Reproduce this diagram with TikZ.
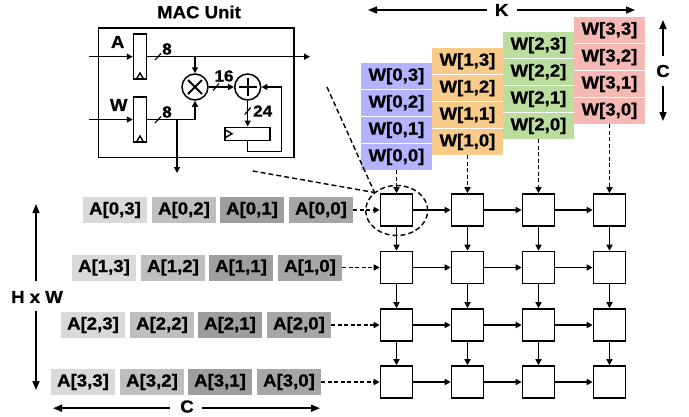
\documentclass[tikz,border=0pt]{standalone}
\usepackage{fontspec}
\setmainfont{Liberation Sans}[BoldFeatures={FakeBold=0.8,FakeStretch=1.07}]
\usetikzlibrary{arrows.meta,shapes.geometric}
\definecolor{wblue}{HTML}{B3B3FF}
\definecolor{worange}{HTML}{F9CB8B}
\definecolor{wgreen}{HTML}{BBDD9D}
\definecolor{wpink}{HTML}{F5B8B3}
\definecolor{athree}{HTML}{D9D9D9}
\definecolor{atwo}{HTML}{BFBFBF}
\definecolor{aone}{HTML}{9E9E9E}
\definecolor{azero}{HTML}{A6A6A6}
\tikzset{
  lbl/.style={font=\fontsize{17.4}{19}\selectfont\bfseries,inner sep=0pt},
  smalllbl/.style={font=\fontsize{16}{18}\selectfont\bfseries,inner sep=0pt},
  cell/.style={lbl,minimum width=71pt,minimum height=26pt},
  acell/.style={lbl,minimum width=64pt,minimum height=26pt},
  pebox/.style={draw,line width=1.6pt,fill=white,minimum size=32pt,inner sep=0pt},
  wire/.style={line width=1.5pt},
  arr/.style={wire,-{Triangle[length=6pt,width=6pt]}},
  bigarr/.style={line width=1.6pt,-{Triangle[length=9pt,width=7pt]}},
  dasharr/.style={line width=1.5pt,dash pattern=on 4pt off 2.5pt,-{Triangle[length=6pt,width=6pt]}},
  dashln/.style={line width=1.4pt,dash pattern=on 5pt off 3pt},
  regbox/.style={draw,line width=1.5pt,fill=white,inner sep=0pt},
  op/.style={circle,draw,line width=1.5pt,fill=white,minimum size=26pt,inner sep=0pt},
}
\begin{document}
\begin{tikzpicture}[x=1pt,y=-1pt]
\useasboundingbox (0,0) rectangle (689,416);
% MAC unit
\node[lbl] (title) at (199,12) {MAC Unit};
\node[draw,line width=1.6pt,minimum width=195.5pt,minimum height=129.5pt,inner sep=0pt] (mac) at (196.2,92.8) {};
\node[regbox,minimum width=13pt,minimum height=45pt] (rega) at (140,56.5) {};
\node[regbox,minimum width=13pt,minimum height=45pt] (regw) at (140,119.5) {};
\node[op] (mul) at (195,87) {};
\node[op] (add) at (247.7,87) {};
\node[regbox,minimum width=45pt,minimum height=13pt] (acc) at (247.7,133.8) {};
\draw[line width=1.4pt] (136.5,79) -- (140,73) -- (143.5,79);
\draw[line width=1.4pt] (136.5,142) -- (140,136) -- (143.5,142);
\draw[line width=1.4pt] (225.5,130) -- (232,133.8) -- (225.5,137.5);
\draw[line width=1.8pt] (mul.center) ++(-7,-7) -- ++(14,14) ++(-14,0) -- ++(14,-14);
\draw[line width=1.8pt] (add.center) ++(-9,0) -- ++(18,0) ++(-9,-9) -- ++(0,18);
\coordinate (ain) at (89,56.7);
\coordinate (win) at (89,119.5);
\coordinate (aout) at (310,56.7);
\coordinate (wout) at (177,173);
\coordinate (atap) at (mul.north |- ain);
\coordinate (wbend) at (mul.south |- win);
\coordinate (wtap) at (wout |- win);
\coordinate (fb1) at (247.7,151.7);
\coordinate (fb2) at (281.3,151.7);
\coordinate (fb3) at (281.3,87);
\draw[arr] (ain) -- (rega.west |- ain);
\draw[arr] (win) -- (regw.west |- win);
\draw[arr] (rega.east |- ain) -- (aout);
\draw[arr] (atap) -- (mul.north);
\draw[arr] (regw.east |- win) -- (wbend) -- (mul.south);
\draw[arr] (wtap) -- (wout);
\draw[arr] (mul.east) -- (add.west);
\draw[arr] (add.south) -- (acc.north);
\draw[arr] (acc.south) -- (fb1) -- (fb2) -- (fb3) -- (add.east);
\draw[line width=1.2pt] (155,60) -- (161,53.5);
\draw[line width=1.2pt] (155,123) -- (161,116.5);
\draw[line width=1.2pt] (213,90.5) -- (219,83.5);
\draw[line width=1.2pt] (244.7,114.5) -- (250.7,107.5);
\node[lbl] (la) at (117.7,42) {A};
\node[lbl] (lw) at (118.7,105) {W};
\node[smalllbl] (l8a) at (167,49) {8};
\node[smalllbl] (l8w) at (167,112) {8};
\node[smalllbl] (l16) at (224,76) {16};
\node[smalllbl] (l24) at (262.7,111) {24};
% W cells
\foreach \c/\x/\ytop/\col in {0/396.5/63/wblue,1/467.5/48/worange,2/538.5/32/wgreen,3/609.5/17/wpink}{
  \foreach \r/\k in {3/0,2/1,1/2,0/3}{
    \node[cell,fill=\col] (w-\c-\r) at (\x,{\ytop+13.2+26.9*\k}) {W[\c,\r]};
  }
}
% A cells
\foreach \r/\x/\y in {0/83/210,1/72/267.5,2/61/325,3/51/382}{
  \node[acell,fill=athree] (a-\r-3) at (\x+32,\y) {A[\r,3]};
  \node[acell,fill=atwo]   (a-\r-2) at (\x+101,\y) {A[\r,2]};
  \node[acell,fill=aone]   (a-\r-1) at (\x+169,\y) {A[\r,1]};
  \node[acell,fill=azero]  (a-\r-0) at (\x+238,\y) {A[\r,0]};
}
% PE grid
\foreach \r/\y in {0/210,1/267.5,2/325,3/382}{
  \foreach \c/\x in {0/396.5,1/467.5,2/538.5,3/609.5}{
    \node[pebox] (pe-\r-\c) at (\x,\y) {};
  }
}
\foreach \r in {0,1,2,3}{
  \draw[dasharr] (a-\r-0.east) -- (pe-\r-0.west);
  \draw[arr] (pe-\r-0.east) -- (pe-\r-1.west);
  \draw[arr] (pe-\r-1.east) -- (pe-\r-2.west);
  \draw[arr] (pe-\r-2.east) -- (pe-\r-3.west);
}
\foreach \c in {0,1,2,3}{
  \draw[dasharr] (w-\c-0.south) -- (pe-0-\c.north);
  \draw[arr] (pe-0-\c.south) -- (pe-1-\c.north);
  \draw[arr] (pe-1-\c.south) -- (pe-2-\c.north);
  \draw[arr] (pe-2-\c.south) -- (pe-3-\c.north);
}
% highlight ellipse and zoom lines
\node[ellipse,draw,dashln,minimum width=62pt,minimum height=50pt,inner sep=0pt] (sel) at (396.7,210.5) {};
\coordinate (z1) at (327,87);
\coordinate (z2) at (252.7,171);
\coordinate (z3) at (374.5,192.5);
\draw[dashln] (z1) -- (z3);
\draw[dashln] (z2) -- (z3);
% dimensions
\node[lbl] (k) at (501.7,10) {K};
\coordinate (kl) at (368,10);
\coordinate (kr) at (635,10);
\draw[bigarr] (487,10) -- (kl);
\draw[bigarr] (517,10) -- (kr);
\node[lbl] (cr) at (663,71) {C};
\coordinate (cu) at (663,20);
\coordinate (cd) at (663,121);
\draw[bigarr] (663,56) -- (cu);
\draw[bigarr] (663,86) -- (cd);
\node[lbl] (hw) at (37,297) {H x W};
\coordinate (hu) at (36,204);
\coordinate (hd) at (36,390);
\draw[bigarr] (36,281) -- (hu);
\draw[bigarr] (36,311) -- (hd);
\node[lbl] (cb) at (187,406.5) {C};
\coordinate (cbl) at (53,408.2);
\coordinate (cbr) at (320,408.2);
\draw[bigarr] (170,408.2) -- (cbl);
\draw[bigarr] (202,408.2) -- (cbr);
\end{tikzpicture}
\end{document}
